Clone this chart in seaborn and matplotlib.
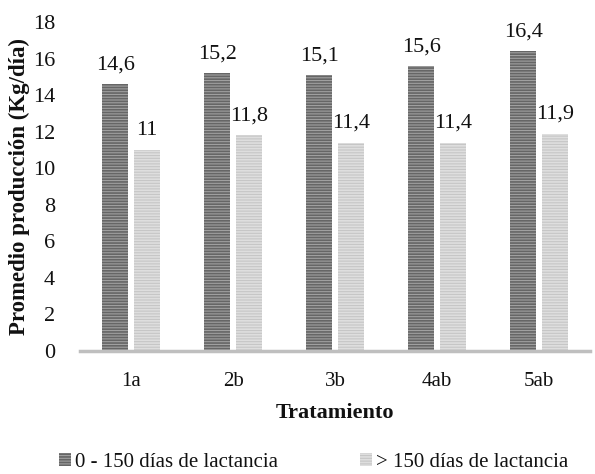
import matplotlib
matplotlib.use("Agg")
import matplotlib.pyplot as plt
import seaborn as sns
import pandas as pd
from matplotlib.patches import Patch

# Average milk yield per treatment, split by lactation stage
tratamientos = ["1a", "2b", "3b", "4ab", "5ab"]
grupos = ["0 - 150 días de lactancia", "> 150 días de lactancia"]
temprana = [14.6, 15.2, 15.1, 15.6, 16.4]
tardia = [11.0, 11.8, 11.4, 11.4, 11.9]
yticks = [0, 2, 4, 6, 8, 10, 12, 14, 16, 18]

df = pd.DataFrame({
    "Tratamiento": tratamientos * 2,
    "Grupo": [grupos[0]] * len(tratamientos) + [grupos[1]] * len(tratamientos),
    "Produccion": temprana + tardia,
})

sns.set_theme(style="white")
plt.rcParams["font.family"] = ["Liberation Serif", "DejaVu Serif"]
plt.rcParams["hatch.linewidth"] = 1.2

base_colors = {grupos[0]: "#a0a0a0", grupos[1]: "#c6c6c6"}
stripe_colors = {grupos[0]: "#666666", grupos[1]: "#dedede"}
text_color = "#111111"

fig = plt.figure(figsize=(5.95, 4.74), dpi=100)
ax = fig.add_axes([0.1345, 0.2595, 0.857, 0.694])

sns.barplot(data=df, x="Tratamiento", y="Produccion", hue="Grupo",
            order=tratamientos, hue_order=grupos, palette=base_colors,
            width=0.615, gap=0.17, legend=False, ax=ax)

# Horizontal stripe texture and value labels
for container, grupo in zip(ax.containers, grupos):
    for bar in container:
        bar.set_hatch("------")
        bar.set_edgecolor(stripe_colors[grupo])
        bar.set_linewidth(0)
    ax.bar_label(container,
                 labels=[f"{v:g}".replace(".", ",") for v in container.datavalues],
                 padding=7, fontsize=16, color=text_color)

ax.set_ylim(0, 18)
ax.set_yticks(yticks)
ax.set_xlim(-0.5, len(tratamientos) - 0.5)
for s in ["top", "right", "left"]:
    ax.spines[s].set_visible(False)
ax.spines["bottom"].set_color("#bfbfbf")
ax.spines["bottom"].set_linewidth(2.5)
ax.tick_params(axis="y", length=0, pad=18, labelsize=16, labelcolor=text_color)
ax.tick_params(axis="x", length=0, pad=15, labelsize=15, labelcolor=text_color)

ax.set_ylabel("Promedio producción (Kg/día)", fontsize=16.5, fontweight="bold",
              color=text_color)
ax.set_xlabel("Tratamiento", fontsize=16, fontweight="bold", color=text_color,
              labelpad=9)
ax.yaxis.set_label_coords(-0.098, 0.5)

handles = [Patch(facecolor=base_colors[g], edgecolor=stripe_colors[g], hatch="------",
                 linewidth=0) for g in grupos]
fig.legend(handles, grupos, loc="center", bbox_to_anchor=(0.527, 0.025), ncol=2,
           frameon=False, fontsize=15, handlelength=0.6, handleheight=0.6,
           handletextpad=0.2, columnspacing=3.9, labelcolor=text_color,
           borderpad=0.2)

fig.savefig("out.png", dpi=100)
